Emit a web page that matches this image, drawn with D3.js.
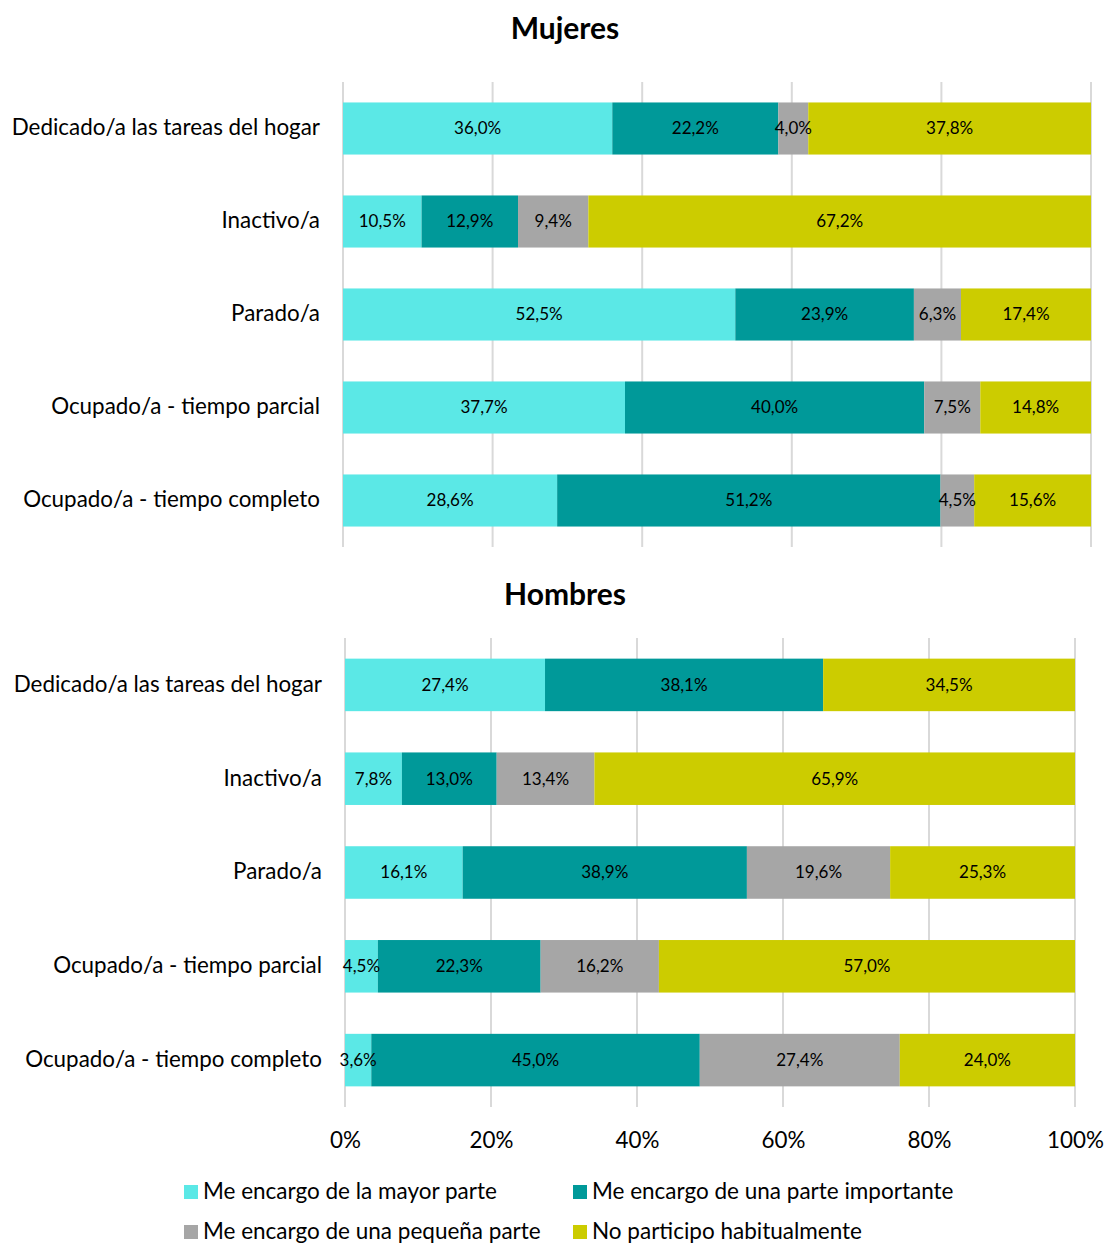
<!DOCTYPE html>
<html>
<head>
<meta charset="utf-8">
<script src="https://cdn.jsdelivr.net/npm/d3@7"></script>
<style>
  body { margin: 0; background: #fff; }
  text { font-family: Lato, "Open Sans", sans-serif; }
</style>
</head>
<body>
<svg width="1104" height="1246"></svg>
<script>
// categories, top to bottom
var categories = ["Dedicado/a las tareas del hogar", "Inactivo/a", "Parado/a",
                  "Ocupado/a - tiempo parcial", "Ocupado/a - tiempo completo"];

var seriesNames = ["Me encargo de la mayor parte", "Me encargo de una parte importante",
                   "Me encargo de una pequeña parte", "No participo habitualmente"];
var colors = ["#5BE8E6", "#009999", "#A6A6A6", "#CCCC00"];

// values per series (one per category)
var mujMayor      = [36.0, 10.5, 52.5, 37.7, 28.6];
var mujImportante = [22.2, 12.9, 23.9, 40.0, 51.2];
var mujPequena    = [4.0, 9.4, 6.3, 7.5, 4.5];
var mujNo         = [37.8, 67.2, 17.4, 14.8, 15.6];

var homMayor      = [27.4, 7.8, 16.1, 4.5, 3.6];
var homImportante = [38.1, 13.0, 38.9, 22.3, 45.0];
var homPequena    = [0, 13.4, 19.6, 16.2, 27.4];
var homNo         = [34.5, 65.9, 25.3, 57.0, 24.0];

var tickValues = [0, 0.2, 0.4, 0.6, 0.8, 1];

var svg = d3.select('svg');

//build rows for one panel and draw it
function drawPanel(title, seriesArr, opts){
  var rows = categories.map(function(c, i){
    var vals = seriesArr.map(function(s){ return s[i]; });
    var total = d3.sum(vals);
    var acc = 0;
    var segs = vals.map(function(v, k){
      var s = {k: k, v: v, x0: acc / total, x1: (acc + v) / total};
      acc += v;
      return s;
    });
    return {cat: c, segs: segs};
  });

  var x = d3.scaleLinear().domain([0, 1]).range([opts.x0, opts.x1]);
  var y = d3.scaleBand().domain(categories).range([opts.y0, opts.y1])
            .paddingInner(0.44).paddingOuter(0.22);

  var g = svg.append('g');

  g.append('text')
    .text(title)
    .attr('x', opts.titleX)
    .attr('y', opts.titleY)
    .attr('text-anchor', 'middle')
    .style('font-size', '30px')
    .style('font-weight', 'bold')
    .attr('fill', '#000');

  //gridlines
  g.selectAll('.grid')
    .data(tickValues)
    .enter()
    .append('line')
    .attr('x1', function(d){ return x(d); })
    .attr('x2', function(d){ return x(d); })
    .attr('y1', opts.y0)
    .attr('y2', opts.y1)
    .attr('stroke', '#d9d9d9')
    .attr('stroke-width', 2);

  var row = g.selectAll('.row')
    .data(rows)
    .enter()
    .append('g')
    .attr('transform', function(d){ return 'translate(0,' + y(d.cat) + ')'; });

  row.selectAll('rect')
    .data(function(d){ return d.segs.filter(function(s){ return s.v > 0; }); })
    .enter()
    .append('rect')
    .attr('x', function(d){ return x(d.x0); })
    .attr('width', function(d){ return x(d.x1) - x(d.x0); })
    .attr('height', y.bandwidth())
    .attr('fill', function(d){ return colors[d.k]; });

  row.selectAll('.lbl')
    .data(function(d){ return d.segs.filter(function(s){ return s.v > 0; }); })
    .enter()
    .append('text')
    .attr('x', function(d){ return (x(d.x0) + x(d.x1)) / 2; })
    .attr('y', y.bandwidth() / 2)
    .attr('dy', '0.35em')
    .attr('text-anchor', 'middle')
    .style('font-size', '17px')
    .attr('fill', '#000')
    .text(function(d){ return d.v.toFixed(1).replace('.', ',') + '%'; });

  //category labels
  g.selectAll('.cat')
    .data(categories)
    .enter()
    .append('text')
    .attr('x', opts.x0 - 23)
    .attr('y', function(d){ return y(d) + y.bandwidth() / 2 - 1; })
    .attr('dy', '0.35em')
    .attr('text-anchor', 'end')
    .style('font-size', '22.4px')
    .attr('fill', '#000')
    .text(function(d){ return d; });

  if(opts.axis){
    var ax = g.append('g')
      .attr('transform', 'translate(0,' + (opts.y1 + 22) + ')')
      .call(d3.axisBottom(x).tickValues(tickValues).tickSize(0).tickFormat(d3.format('.0%')));
    ax.select('.domain').remove();
    ax.selectAll('text')
      .style('font-size', '22.4px')
      .style('font-family', 'Lato, sans-serif')
      .attr('fill', '#000');
  }
}

drawPanel('Mujeres', [mujMayor, mujImportante, mujPequena, mujNo],
  {x0: 343, x1: 1091, y0: 82, y1: 547, titleX: 565, titleY: 39, axis: false});

drawPanel('Hombres', [homMayor, homImportante, homPequena, homNo],
  {x0: 345, x1: 1075, y0: 638, y1: 1107, titleX: 565, titleY: 605, axis: true});

//legend (second row nudged up so it stays inside the page)
var legendPos = [[184, 1191], [573, 1191], [184, 1231], [573, 1231]];
var leg = svg.selectAll('.leg')
  .data(seriesNames)
  .enter()
  .append('g')
  .attr('transform', function(d, i){ return 'translate(' + legendPos[i][0] + ',' + legendPos[i][1] + ')'; });

leg.append('rect')
  .attr('x', 0)
  .attr('y', -6)
  .attr('width', 14)
  .attr('height', 14)
  .attr('fill', function(d, i){ return colors[i]; });

leg.append('text')
  .attr('x', 19)
  .attr('y', 0)
  .attr('dy', '0.35em')
  .style('font-size', '22.5px')
  .attr('fill', '#000')
  .text(function(d){ return d; });
</script>
</body>
</html>
